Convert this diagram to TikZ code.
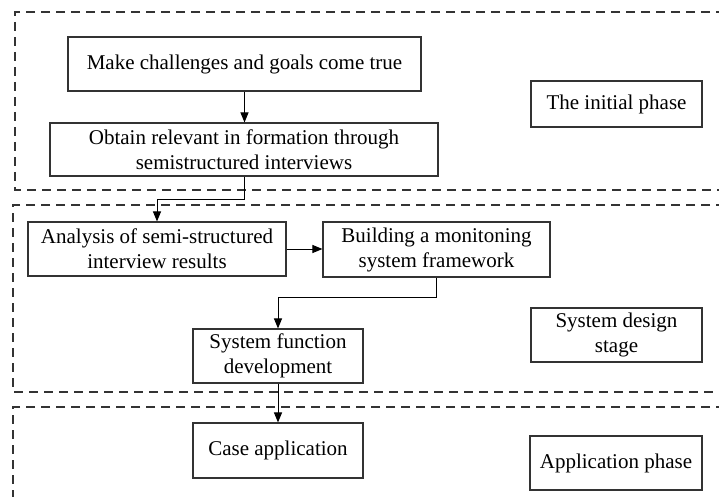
\documentclass[tikz,border=0pt]{standalone}
\usepackage{fontspec}
\setmainfont{Liberation Serif}
\usetikzlibrary{arrows.meta}
\begin{document}
\begin{tikzpicture}[x=1pt,y=-1pt,
  stagebox/.style={draw=black!80,line width=1.4pt,dash pattern=on 9pt off 6pt},
  procbox/.style={draw=black!80,line width=1.1pt,align=center,inner sep=0pt,
    font=\fontsize{21}{25}\selectfont},
  conn/.style={draw=black,line width=1pt,-{Triangle[length=10pt,width=8pt]}}]
\useasboundingbox (0,0) rectangle (719,497);
% stage frames
\draw[stagebox] (725,12) -- (15,12) -- (15,190) -- (725,190);
\draw[stagebox] (725,205) -- (13,205) -- (13,392) -- (725,392);
\draw[stagebox] (725,407) -- (13,407) -- (13,505);
% nodes
\node[procbox,minimum width=353pt,minimum height=54pt] (make) at (244.5,64) {Make challenges and goals come true};
\node[procbox,minimum width=388pt,minimum height=53pt] (obtain) at (244,149.5) {Obtain relevant in formation through\\semistructured interviews};
\node[procbox,minimum width=258pt,minimum height=54pt] (analysis) at (157,249) {Analysis of semi-structured\\interview results};
\node[procbox,minimum width=227pt,minimum height=55pt] (building) at (436.5,249.5) {Building a monitoning\\system framework};
\node[procbox,minimum width=170pt,minimum height=54pt] (sysfunc) at (278,356) {System function\\development};
\node[procbox,minimum width=170pt,minimum height=55pt] (case) at (278,450.5) {Case application};
\node[procbox,minimum width=171pt,minimum height=46pt] (initial) at (616.5,104) {The initial phase};
\node[procbox,minimum width=171pt,minimum height=54pt] (design) at (616.5,335) {System design\\stage};
\node[procbox,minimum width=172pt,minimum height=54pt] (appphase) at (616,463) {Application phase};
% connectors
\coordinate (b1) at (244,199);
\coordinate (b2) at (436.5,297);
\draw[conn] (make.south) -- (make.south |- obtain.north);
\draw[conn] (obtain.south) -- (b1) -| (analysis.north);
\draw[conn] (analysis.east) -- (analysis.east -| building.west);
\draw[conn] (building.south) -- (b2) -| (sysfunc.north);
\draw[conn] (sysfunc.south) -- (case.north);
\end{tikzpicture}
\end{document}
